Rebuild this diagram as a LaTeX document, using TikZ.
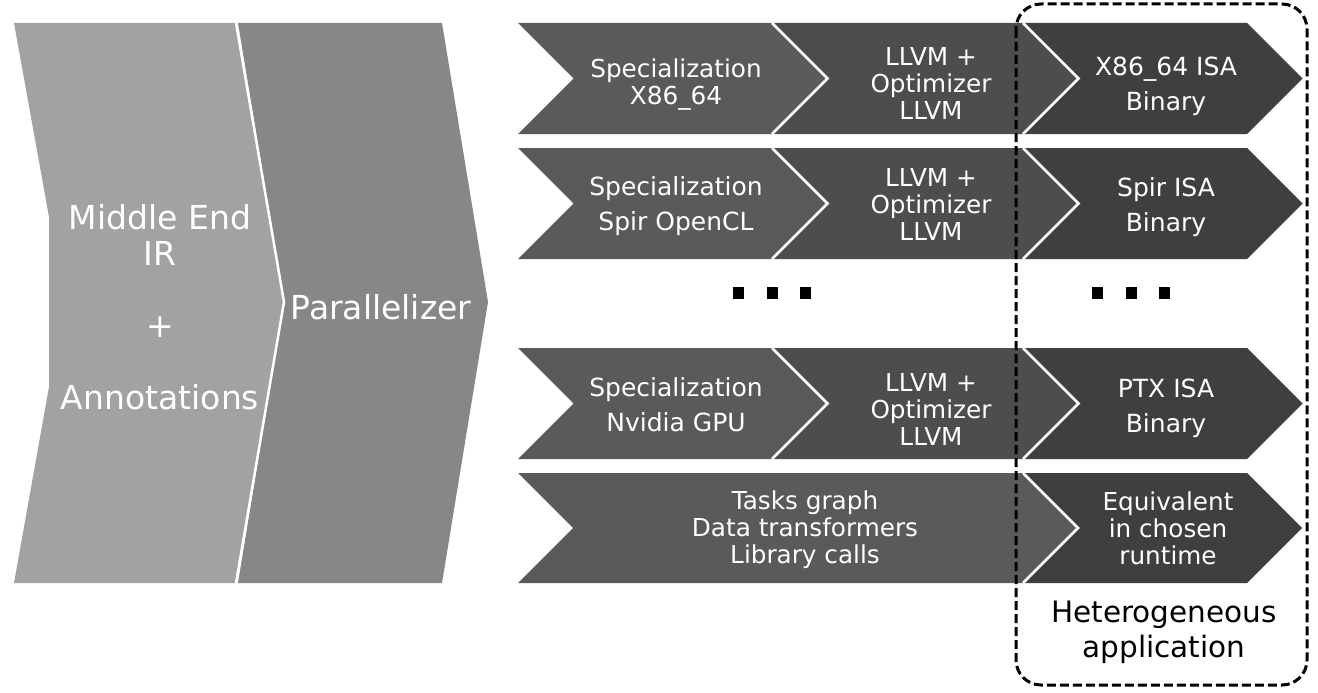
\documentclass[tikz,border=0pt]{standalone}
\usepackage{fontspec}
\setmainfont{DejaVu Sans}
\definecolor{cA}{HTML}{A2A2A2}
\definecolor{cB}{HTML}{878787}
\definecolor{cC}{HTML}{5A5A5A}
\definecolor{cD}{HTML}{4D4D4D}
\definecolor{cE}{HTML}{3F3F3F}
\begin{document}
\begin{tikzpicture}[x=1pt,y=-1pt,
  sep/.style={draw=white,line width=2.5pt},
  lbl/.style={text=white,align=center,inner sep=0pt},
  big/.style={lbl,font=\fontsize{33}{36}\selectfont},
  sml/.style={lbl,font=\fontsize{24.7}{27}\selectfont},
  smw/.style={lbl,font=\fontsize{25}{35}\selectfont},
  sq/.style={fill=black}
]
\useasboundingbox (0,0) rectangle (1318,693);
% left big chevrons
\fill[cB] (238,23)--(442,23)--(488,302)--(442,583)--(238,583)--(284,302)--cycle;
\fill[cA] (14,23)--(236,23)--(284,302)--(236,583)--(14,583)--(49,387)--(49,217)--cycle;
\draw[sep] (236,23)--(284,302)--(236,583);
% rows of three chevrons
\foreach \yt/\yb in {23/134,148/259,348/459}{
  \pgfmathsetmacro\ym{(\yt+\yb)/2}
  \pgfmathsetmacro\hh{(\yb-\yt)/2}
  \fill[cE] (1023,\yt)--(1247,\yt)--({1247+\hh},\ym)--(1247,\yb)--(1023,\yb)--({1023+\hh},\ym)--cycle;
  \fill[cD] (772,\yt)--(1023,\yt)--({1023+\hh},\ym)--(1023,\yb)--(772,\yb)--({772+\hh},\ym)--cycle;
  \fill[cC] (518,\yt)--(772,\yt)--({772+\hh},\ym)--(772,\yb)--(518,\yb)--({518+\hh},\ym)--cycle;
  \draw[sep] (772,\yt)--({772+\hh},\ym)--(772,\yb);
  \draw[sep] (1023,\yt)--({1023+\hh},\ym)--(1023,\yb);
}
% bottom row
\fill[cE] (1023,473)--(1247,473)--(1302,528)--(1247,583)--(1023,583)--(1078,528)--cycle;
\fill[cC] (518,473)--(1023,473)--(1078,528)--(1023,583)--(518,583)--(573,528)--cycle;
\draw[sep] (1023,473)--(1078,528)--(1023,583);
% texts
\node[big] (me) at (160,307) {Middle End\\IR\\~\\+\\~\\Annotations};
\node[big] (par) at (381,307) {Parallelizer};
\node[sml] (s1) at (676,85) {Specialization\\X86\_64};
\node[sml] (l1) at (931,83) {LLVM +\\Optimizer\\LLVM};
\node[smw] (b1) at (1166,86) {X86\_64 ISA\\Binary};
\node[smw] (s2) at (676,206) {Specialization\\Spir OpenCL};
\node[sml] (l2) at (931,204) {LLVM +\\Optimizer\\LLVM};
\node[smw] (b2) at (1166,207) {Spir ISA\\Binary};
\node[smw] (s3) at (676,405) {Specialization\\Nvidia GPU};
\node[sml] (l3) at (931,409) {LLVM +\\Optimizer\\LLVM};
\node[smw] (b3) at (1166,408.5) {PTX ISA\\Binary};
\node[sml] (t4) at (805,530) {Tasks graph\\Data transformers\\Library calls};
\node[sml] (e4) at (1168,528) {Equivalent\\in chosen\\runtime};
\node[lbl,text=black,font=\fontsize{29.5}{35}\selectfont] (het) at (1164,632.5) {Heterogeneous\\application};
% dots
\foreach \x in {738.5,772,805.5,1097.5,1131,1164}
  \fill[sq] (\x-5.5,286.5) rectangle (\x+5.5,298.5);
% dashed frame
\draw[black,line width=3pt,dash pattern=on 9pt off 4pt,rounded corners=25pt] (1016,4) rectangle (1307,685);
\end{tikzpicture}
\end{document}
